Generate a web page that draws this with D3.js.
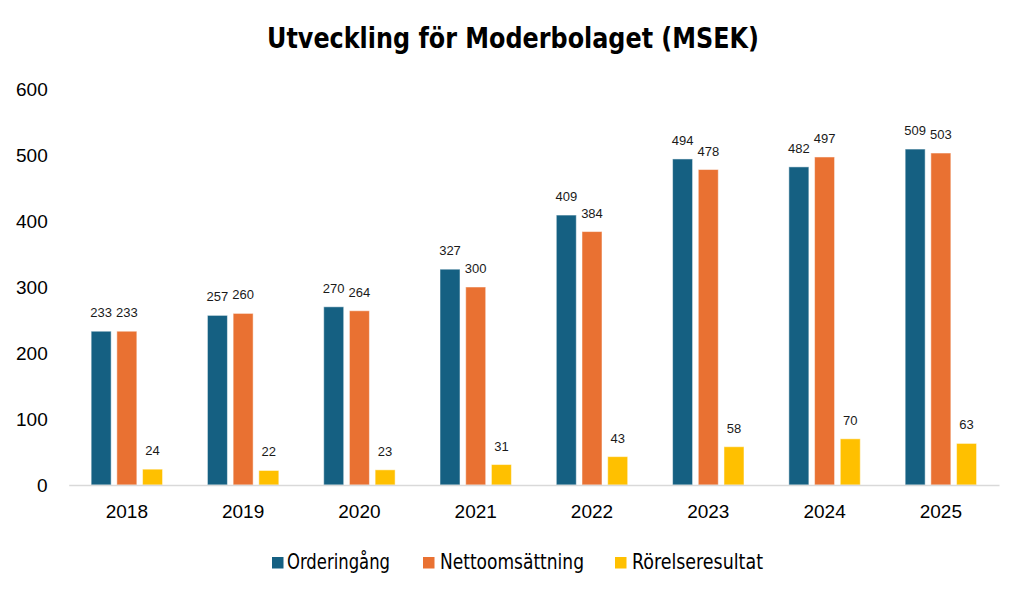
<!DOCTYPE html>
<html>
<head>
<meta charset="utf-8">
<script src="https://cdn.jsdelivr.net/npm/d3@7"></script>
<style>
  html, body { margin: 0; padding: 0; background: #fff; }
  svg { display: block; }
</style>
</head>
<body>
<svg id="chart" width="1030" height="598"></svg>
<script>
const years = ["2018", "2019", "2020", "2021", "2022", "2023", "2024", "2025"];
const seriesNames = ["Orderingång", "Nettoomsättning", "Rörelseresultat"];
const orderingang = [233, 257, 270, 327, 409, 494, 482, 509];
const nettoomsattning = [233, 260, 264, 300, 384, 478, 497, 503];
const rorelseresultat = [24, 22, 23, 31, 43, 58, 70, 63];
const yTicks = [0, 100, 200, 300, 400, 500, 600];
const colors = ["#156082", "#E97132", "#FFC000"];
const title = "Utveckling för Moderbolaget (MSEK)";

const seriesValues = [orderingang, nettoomsattning, rorelseresultat];
const table = years.map((y, i) => ({
  year: y,
  values: seriesNames.map((s, k) => ({ series: s, value: seriesValues[k][i] }))
}));

const svg = d3.select("#chart");
const plotLeft = 68.7, plotRight = 999, plotBottom = 485, plotTop = 89;

const x0 = d3.scaleBand().domain(years).range([plotLeft, plotRight])
  .paddingInner(0.386).paddingOuter(0.193);
const x1 = d3.scaleBand().domain(seriesNames).range([0, x0.bandwidth()])
  .paddingInner(0.222).paddingOuter(0);
const y = d3.scaleLinear().domain([0, 600]).range([plotBottom, plotTop]);
const color = d3.scaleOrdinal().domain(seriesNames).range(colors);

const numFont = "'Liberation Sans', Arial, sans-serif";
const narrowFont = "'Liberation Sans Narrow', 'Arial Narrow', 'DejaVu Sans Condensed', 'Liberation Sans', sans-serif";

// Title
svg.append("text")
  .attr("x", 513).attr("y", 48)
  .attr("text-anchor", "middle")
  .attr("font-family", narrowFont)
  .attr("font-weight", "bold")
  .attr("font-size", 29)
  .attr("fill", "#000")
  .attr("textLength", 492)
  .attr("lengthAdjust", "spacingAndGlyphs")
  .text(title);

// Y axis labels
const yAxis = d3.axisLeft(y).tickValues(yTicks).tickSize(0).tickPadding(21);
const gy = svg.append("g").attr("transform", `translate(${plotLeft},0)`).call(yAxis);
gy.select(".domain").remove();
gy.selectAll("text")
  .attr("font-family", numFont).attr("font-size", 19).attr("fill", "#000");

// Bars
const groups = svg.append("g").selectAll("g").data(table).join("g")
  .attr("transform", d => `translate(${x0(d.year)},0)`);

groups.selectAll("rect").data(d => d.values).join("rect")
  .attr("x", d => x1(d.series))
  .attr("y", d => y(d.value))
  .attr("width", x1.bandwidth())
  .attr("height", d => y(0) - y(d.value))
  .attr("fill", d => color(d.series))
  .attr("stroke", "#ffffff")
  .attr("stroke-opacity", 0.5)
  .attr("stroke-width", 1);

groups.selectAll("text.val").data(d => d.values).join("text")
  .attr("class", "val")
  .attr("x", d => x1(d.series) + x1.bandwidth() / 2)
  .attr("y", d => y(d.value) - 14)
  .attr("text-anchor", "middle")
  .attr("font-family", numFont)
  .attr("font-size", 13)
  .attr("fill", "#1a1a1a")
  .text(d => d.value);

// X axis
const xAxis = d3.axisBottom(x0).tickSize(0).tickPadding(20);
const gx = svg.append("g").attr("transform", `translate(0,${plotBottom})`).call(xAxis);
gx.select(".domain").attr("stroke", "#d9d9d9").attr("stroke-width", 1.5);
gx.selectAll("text")
  .attr("font-family", numFont).attr("font-size", 19).attr("fill", "#000");

// Legend
const legendSwatchX = [272, 423, 615];
const legendTextX = [287, 440, 632];
const legendTextW = [103, 144, 131];
const legend = svg.append("g").selectAll("g").data(seriesNames).join("g");
legend.append("rect")
  .attr("x", (d, i) => legendSwatchX[i]).attr("y", 557)
  .attr("width", 11.5).attr("height", 11.5)
  .attr("fill", d => color(d));
legend.append("text")
  .attr("x", (d, i) => legendTextX[i]).attr("y", 568.5)
  .attr("font-family", narrowFont)
  .attr("font-size", 20.5)
  .attr("fill", "#000")
  .attr("textLength", (d, i) => legendTextW[i])
  .attr("lengthAdjust", "spacingAndGlyphs")
  .text(d => d);
</script>
</body>
</html>
